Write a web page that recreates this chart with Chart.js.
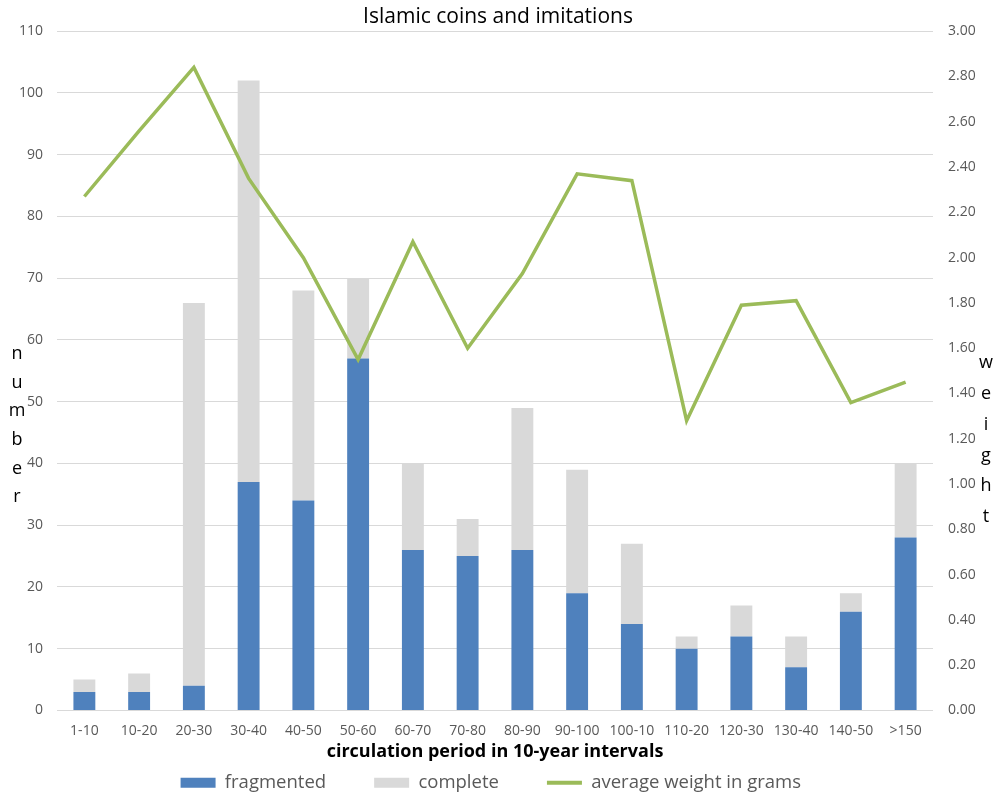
<!DOCTYPE html>
<html>
<head>
<meta charset="utf-8">
<title>Islamic coins and imitations</title>
<script src="https://cdn.jsdelivr.net/npm/chart.js@4/dist/chart.umd.min.js"></script>
<style>
  html, body { margin: 0; padding: 0; background: #fff; }
  #wrap { width: 996px; height: 796px; }
</style>
</head>
<body>
<div id="wrap"><canvas id="coinChart" width="996" height="796"></canvas></div>
<script>
// Chart data
const periods = ["1-10", "10-20", "20-30", "30-40", "40-50", "50-60", "60-70", "70-80",
  "80-90", "90-100", "100-10", "110-20", "120-30", "130-40", "140-50", ">150"];
const fragmented = [3, 3, 4, 37, 34, 57, 26, 25, 26, 19, 14, 10, 12, 7, 16, 28];
const complete = [2, 3, 62, 65, 34, 13, 14, 6, 23, 20, 13, 2, 5, 5, 3, 12];
const avgWeight = [2.27, 2.56, 2.84, 2.35, 2.00, 1.55, 2.07, 1.60, 1.93, 2.37, 2.34, 1.28, 1.79, 1.81, 1.36, 1.45];
const leftTitle = ["n", "u", "m", "b", "e", "r"];
const rightTitle = ["w", "e", "i", "g", "h", "t"];

const colors = {
  blue: "#4f81bd",
  gray: "#d9d9d9",
  green: "#9bbb59",
  grid: "#d9d9d9",
  tick: "#595959",
  text: "#000000",
};
const fontFamily = "'Open Sans', 'Noto Sans', sans-serif";

// trailing gap after each legend entry (Excel spreads them out more than Chart.js)
const legendGap = "          ";

// Stacked letters for the two vertical axis titles
const letterTitles = {
  id: "letterTitles",
  afterDraw(chart) {
    const ctx = chart.ctx;
    ctx.save();
    ctx.fillStyle = colors.text;
    ctx.font = "18px " + fontFamily;
    ctx.textAlign = "center";
    ctx.textBaseline = "middle";
    leftTitle.forEach((ch, i) => ctx.fillText(ch, 17, 354 + i * 28.6));
    rightTitle.forEach((ch, i) => ctx.fillText(ch, 986, 363 + i * 30.8));
    ctx.restore();
  },
};

const ctx = document.getElementById("coinChart");
new Chart(ctx, {
  data: {
    labels: periods,
    datasets: [
      {
        type: "bar",
        label: "fragmented",
        data: fragmented,
        backgroundColor: colors.blue,
        yAxisID: "y",
        stack: "coins",
        order: 1,
        barPercentage: 0.4,
        categoryPercentage: 1,
      },
      {
        type: "bar",
        label: "complete",
        data: complete,
        backgroundColor: colors.gray,
        yAxisID: "y",
        stack: "coins",
        order: 1,
        barPercentage: 0.4,
        categoryPercentage: 1,
      },
      {
        type: "line",
        label: "average weight in grams",
        data: avgWeight,
        borderColor: colors.green,
        backgroundColor: colors.green,
        borderWidth: 3.5,
        pointRadius: 0,
        tension: 0,
        yAxisID: "y1",
        order: 0,
      },
    ],
  },
  options: {
    responsive: false,
    animation: false,
    layout: { padding: { left: 0, right: 0, top: 0, bottom: -6 } },
    scales: {
      x: {
        stacked: true,
        grid: { display: false, drawTicks: false },
        border: { display: false },
        ticks: {
          color: colors.tick,
          font: { family: fontFamily, size: 14 },
          padding: 12,
          maxRotation: 0,
          autoSkip: false,
        },
        title: {
          display: true,
          text: "circulation period in 10-year intervals",
          color: colors.text,
          font: { family: fontFamily, size: 18, weight: "bold" },
          padding: { top: 0, bottom: 11 },
        },
        afterFit(scale) { scale.height = 63; },
      },
      y: {
        position: "left",
        stacked: true,
        min: 0,
        max: 110,
        ticks: {
          stepSize: 10,
          color: colors.tick,
          font: { family: fontFamily, size: 14 },
          padding: 14,
        },
        grid: { color: colors.grid, lineWidth: 1, drawTicks: false },
        border: { display: false },
        afterFit(scale) { scale.width = 57; },
      },
      y1: {
        position: "right",
        stacked: false,
        min: 0,
        max: 3,
        ticks: {
          stepSize: 0.2,
          color: colors.tick,
          font: { family: fontFamily, size: 14 },
          padding: 15,
          callback: (v) => Number(v).toFixed(2),
        },
        grid: { display: false, drawTicks: false },
        border: { display: false },
        afterFit(scale) { scale.width = 63; },
      },
    },
    plugins: {
      title: {
        display: true,
        text: "Islamic coins and imitations",
        color: colors.text,
        font: { family: fontFamily, size: 21, weight: "normal" },
        padding: { top: 4, bottom: 2 },
      },
      legend: {
        position: "bottom",
        labels: {
          color: colors.tick,
          font: { family: fontFamily, size: 18.5 },
          usePointStyle: true,
          pointStyleWidth: 35,
          boxHeight: 10,
          padding: 0,
          sort: (a, b) => a.datasetIndex - b.datasetIndex,
          generateLabels(chart) {
            const items = Chart.defaults.plugins.legend.labels.generateLabels(chart);
            return items.map((item) => {
              const ds = chart.data.datasets[item.datasetIndex];
              if (ds.type === "line") {
                item.pointStyle = "line";
                item.lineWidth = 4;
                item.strokeStyle = colors.green;
                item.text = item.text + "   ";
              } else {
                item.pointStyle = "rect";
                item.lineWidth = 0;
                item.text = item.text + legendGap;
              }
              return item;
            });
          },
        },
      },
      tooltip: { enabled: false },
    },
  },
  plugins: [letterTitles],
});
</script>
</body>
</html>
